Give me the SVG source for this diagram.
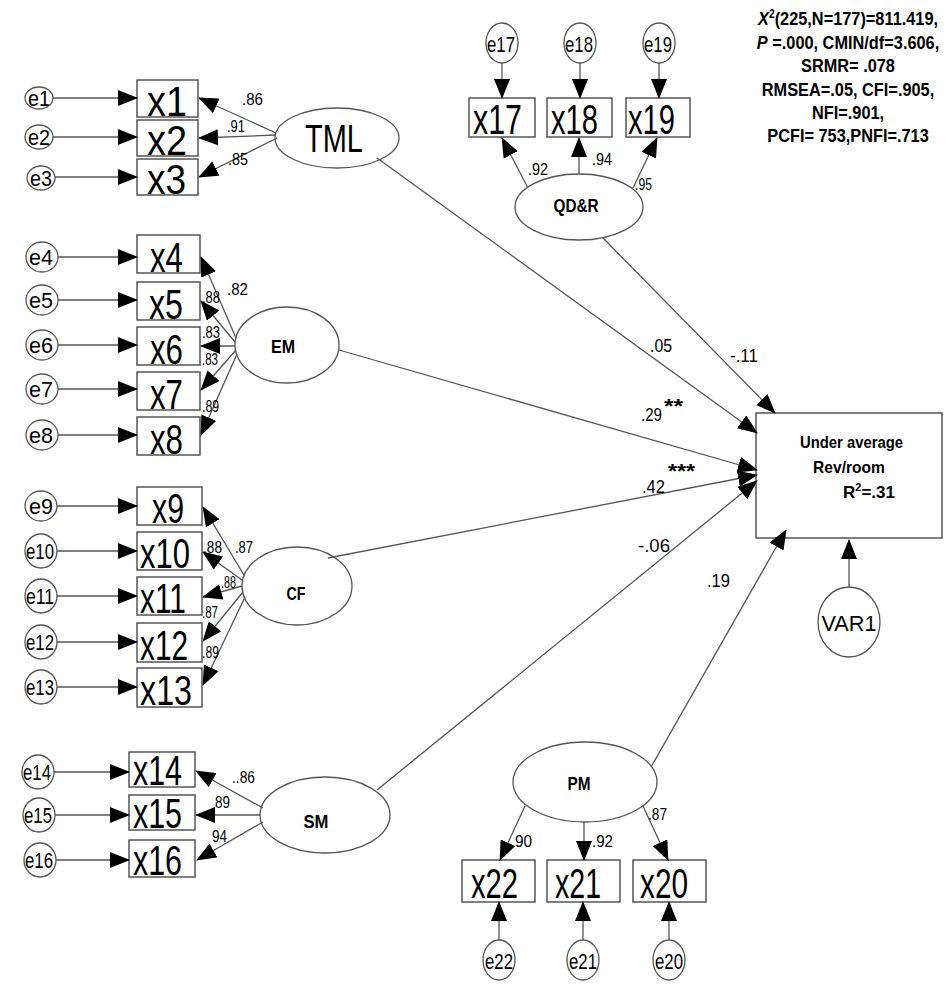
<svg xmlns="http://www.w3.org/2000/svg" width="949" height="984" viewBox="0 0 949 984">
<defs>
<style>
.box{fill:#fff;stroke:#555;stroke-width:1.5}
.el{fill:#fff;stroke:#555;stroke-width:1.3}
.ln{fill:none;stroke:#555;stroke-width:1.3;marker-end:url(#ah)}
text{font-family:"Liberation Sans",Arial,sans-serif;fill:#000}
.xb{font-size:42px;text-anchor:start}
.et{font-size:22px;text-anchor:middle}
.lb{font-size:19px;font-weight:bold;text-anchor:middle}
.ld{font-size:17px}
.pc{font-size:19px}
.st{font-size:19px;font-weight:bold;text-anchor:middle}
.tg{font-size:17px;font-weight:bold}
</style>
<marker id="ah" markerUnits="userSpaceOnUse" markerWidth="20" markerHeight="16" refX="19" refY="8" orient="auto">
<path d="M0,0 L20,8 L0,16 z" fill="#000"/>
</marker>
</defs>
<rect width="949" height="984" fill="#fff"/>

<!-- error terms -->
<g id="e1"><ellipse class="el" cx="39" cy="98" rx="14" ry="11"/><text class="et" x="39" y="106" font-size="20" textLength="22" lengthAdjust="spacingAndGlyphs">e1</text></g>
<g id="e2"><ellipse class="el" cx="39" cy="137" rx="14" ry="12"/><text class="et" x="39" y="145" font-size="20" textLength="22" lengthAdjust="spacingAndGlyphs">e2</text></g>
<g id="e3"><ellipse class="el" cx="41" cy="178" rx="14" ry="12"/><text class="et" x="41" y="186" font-size="20" textLength="22" lengthAdjust="spacingAndGlyphs">e3</text></g>
<g id="e4"><ellipse class="el" cx="42" cy="257" rx="16" ry="15"/><text class="et" x="41" y="265" textLength="24" lengthAdjust="spacingAndGlyphs">e4</text></g>
<g id="e5"><ellipse class="el" cx="42" cy="300" rx="16" ry="15"/><text class="et" x="41" y="308" textLength="24" lengthAdjust="spacingAndGlyphs">e5</text></g>
<g id="e6"><ellipse class="el" cx="42" cy="345" rx="16" ry="15"/><text class="et" x="41" y="353" textLength="24" lengthAdjust="spacingAndGlyphs">e6</text></g>
<g id="e7"><ellipse class="el" cx="42" cy="389" rx="16" ry="15"/><text class="et" x="41" y="397" textLength="24" lengthAdjust="spacingAndGlyphs">e7</text></g>
<g id="e8"><ellipse class="el" cx="42" cy="435" rx="16" ry="15"/><text class="et" x="41" y="443" textLength="24" lengthAdjust="spacingAndGlyphs">e8</text></g>
<g id="e9"><ellipse class="el" cx="41" cy="506" rx="16" ry="15"/><text class="et" x="41" y="514" textLength="24" lengthAdjust="spacingAndGlyphs">e9</text></g>
<g id="e10"><ellipse class="el" cx="41" cy="551" rx="16" ry="17"/><text class="et" x="40" y="559" textLength="28" lengthAdjust="spacingAndGlyphs">e10</text></g>
<g id="e11"><ellipse class="el" cx="41" cy="596" rx="16" ry="17"/><text class="et" x="40" y="604" textLength="28" lengthAdjust="spacingAndGlyphs">e11</text></g>
<g id="e12"><ellipse class="el" cx="41" cy="642" rx="16" ry="17"/><text class="et" x="40" y="650" textLength="28" lengthAdjust="spacingAndGlyphs">e12</text></g>
<g id="e13"><ellipse class="el" cx="41" cy="687" rx="16" ry="17"/><text class="et" x="40" y="695" textLength="28" lengthAdjust="spacingAndGlyphs">e13</text></g>
<g id="e14"><ellipse class="el" cx="38" cy="772" rx="16" ry="17"/><text class="et" x="37" y="780" textLength="28" lengthAdjust="spacingAndGlyphs">e14</text></g>
<g id="e15"><ellipse class="el" cx="39" cy="815" rx="16" ry="17"/><text class="et" x="38" y="823" textLength="28" lengthAdjust="spacingAndGlyphs">e15</text></g>
<g id="e16"><ellipse class="el" cx="40" cy="860" rx="16" ry="17"/><text class="et" x="39" y="868" textLength="28" lengthAdjust="spacingAndGlyphs">e16</text></g>
<g id="e17"><ellipse class="el" cx="502" cy="43" rx="16" ry="20"/><text class="et" x="501" y="52" font-size="24" textLength="28" lengthAdjust="spacingAndGlyphs">e17</text></g>
<g id="e18"><ellipse class="el" cx="580" cy="43" rx="16" ry="20"/><text class="et" x="579" y="52" font-size="24" textLength="28" lengthAdjust="spacingAndGlyphs">e18</text></g>
<g id="e19"><ellipse class="el" cx="659" cy="43" rx="16" ry="20"/><text class="et" x="658" y="52" font-size="24" textLength="28" lengthAdjust="spacingAndGlyphs">e19</text></g>
<g id="e22"><ellipse class="el" cx="499" cy="960" rx="16" ry="20"/><text class="et" x="499" y="969" font-size="24" textLength="28" lengthAdjust="spacingAndGlyphs">e22</text></g>
<g id="e21"><ellipse class="el" cx="583" cy="960" rx="16" ry="20"/><text class="et" x="583" y="969" font-size="24" textLength="28" lengthAdjust="spacingAndGlyphs">e21</text></g>
<g id="e20"><ellipse class="el" cx="669" cy="960" rx="16" ry="20"/><text class="et" x="669" y="969" font-size="24" textLength="28" lengthAdjust="spacingAndGlyphs">e20</text></g>
<g id="VAR1"><ellipse class="el" cx="849" cy="622" rx="31" ry="35"/><text class="et" x="849" y="631" font-size="25" textLength="55" lengthAdjust="spacingAndGlyphs">VAR1</text></g>

<!-- observed indicators -->
<g id="x1"><rect class="box" x="137" y="80" width="61" height="37"/><text class="xb" x="147" y="116" font-size="34" textLength="40" lengthAdjust="spacingAndGlyphs">x1</text></g>
<g id="x2"><rect class="box" x="137" y="120" width="61" height="36"/><text class="xb" x="147" y="155" font-size="34" textLength="40" lengthAdjust="spacingAndGlyphs">x2</text></g>
<g id="x3"><rect class="box" x="137" y="159" width="61" height="36"/><text class="xb" x="147" y="194" font-size="34" textLength="39" lengthAdjust="spacingAndGlyphs">x3</text></g>
<g id="x4"><rect class="box" x="137" y="235" width="63" height="38"/><text class="xb" x="150" y="272" font-size="37" textLength="33" lengthAdjust="spacingAndGlyphs">x4</text></g>
<g id="x5"><rect class="box" x="137" y="282" width="63" height="38"/><text class="xb" x="149" y="319" font-size="37" textLength="34" lengthAdjust="spacingAndGlyphs">x5</text></g>
<g id="x6"><rect class="box" x="137" y="327" width="63" height="38"/><text class="xb" x="150" y="364" font-size="37" textLength="33" lengthAdjust="spacingAndGlyphs">x6</text></g>
<g id="x7"><rect class="box" x="137" y="372" width="63" height="38"/><text class="xb" x="150" y="409" font-size="37" textLength="33" lengthAdjust="spacingAndGlyphs">x7</text></g>
<g id="x8"><rect class="box" x="137" y="417" width="63" height="38"/><text class="xb" x="150" y="454" font-size="37" textLength="33" lengthAdjust="spacingAndGlyphs">x8</text></g>
<g id="x9"><rect class="box" x="137" y="487" width="65" height="38"/><text class="xb" x="152" y="523" font-size="40" textLength="32" lengthAdjust="spacingAndGlyphs">x9</text></g>
<g id="x10"><rect class="box" x="137" y="532" width="65" height="38"/><text class="xb" x="140" y="568" font-size="40" textLength="50" lengthAdjust="spacingAndGlyphs">x10</text></g>
<g id="x11"><rect class="box" x="137" y="577" width="65" height="38"/><text class="xb" x="140" y="613" font-size="40" textLength="46" lengthAdjust="spacingAndGlyphs">x11</text></g>
<g id="x12"><rect class="box" x="137" y="623" width="65" height="39"/><text class="xb" x="140" y="660" font-size="40" textLength="48" lengthAdjust="spacingAndGlyphs">x12</text></g>
<g id="x13"><rect class="box" x="137" y="668" width="65" height="39"/><text class="xb" x="140" y="705" font-size="40" textLength="52" lengthAdjust="spacingAndGlyphs">x13</text></g>
<g id="x14"><rect class="box" x="129" y="752" width="66" height="35"/><text class="xb" x="133" y="785" font-size="40" textLength="49" lengthAdjust="spacingAndGlyphs">x14</text></g>
<g id="x15"><rect class="box" x="129" y="795" width="66" height="35"/><text class="xb" x="133" y="828" font-size="40" textLength="49" lengthAdjust="spacingAndGlyphs">x15</text></g>
<g id="x16"><rect class="box" x="129" y="840" width="66" height="37"/><text class="xb" x="133" y="875" font-size="40" textLength="49" lengthAdjust="spacingAndGlyphs">x16</text></g>
<g id="x17"><rect class="box" x="469" y="98" width="66" height="39"/><text class="xb" x="473" y="134" textLength="49" lengthAdjust="spacingAndGlyphs">x17</text></g>
<g id="x18"><rect class="box" x="547" y="98" width="65" height="39"/><text class="xb" x="551" y="134" textLength="47" lengthAdjust="spacingAndGlyphs">x18</text></g>
<g id="x19"><rect class="box" x="626" y="98" width="64" height="39"/><text class="xb" x="628" y="134" textLength="47" lengthAdjust="spacingAndGlyphs">x19</text></g>
<g id="x22"><rect class="box" x="462" y="860" width="73" height="42"/><text class="xb" x="471" y="898" textLength="47" lengthAdjust="spacingAndGlyphs">x22</text></g>
<g id="x21"><rect class="box" x="547" y="860" width="73" height="42"/><text class="xb" x="555" y="898" textLength="46" lengthAdjust="spacingAndGlyphs">x21</text></g>
<g id="x20"><rect class="box" x="633" y="860" width="73" height="42"/><text class="xb" x="640" y="898" textLength="48" lengthAdjust="spacingAndGlyphs">x20</text></g>

<!-- latent variables -->
<g id="TML"><ellipse class="el" cx="337" cy="138" rx="62" ry="30"/><text x="334" y="152" font-size="38" text-anchor="middle" textLength="58" lengthAdjust="spacingAndGlyphs">TML</text></g>
<g id="EM"><ellipse class="el" cx="287" cy="345" rx="52" ry="38"/><text class="lb" x="283" y="353" textLength="24" lengthAdjust="spacingAndGlyphs">EM</text></g>
<g id="CF"><ellipse class="el" cx="297" cy="586" rx="55" ry="39"/><text class="lb" x="296" y="600" textLength="19" lengthAdjust="spacingAndGlyphs">CF</text></g>
<g id="SM"><ellipse class="el" cx="325" cy="815" rx="65" ry="38"/><text class="lb" x="316" y="828" textLength="25" lengthAdjust="spacingAndGlyphs">SM</text></g>
<g id="QDR"><ellipse class="el" cx="579" cy="207" rx="64" ry="33"/><text class="lb" x="576" y="212" font-size="20" textLength="45" lengthAdjust="spacingAndGlyphs">QD&amp;R</text></g>
<g id="PM"><ellipse class="el" cx="585" cy="782" rx="72" ry="40"/><text class="lb" x="579" y="790" textLength="23" lengthAdjust="spacingAndGlyphs">PM</text></g>
<g id="target"><rect class="box" x="756" y="413" width="186" height="125"/>
<text class="tg" x="800" y="448" textLength="103" lengthAdjust="spacingAndGlyphs">Under average</text>
<text class="tg" x="813" y="473" textLength="72" lengthAdjust="spacingAndGlyphs">Rev/room</text>
<text class="tg" x="843" y="498">R<tspan font-size="11" dy="-7">2</tspan><tspan dy="7">=.31</tspan></text>
</g>

<!-- connectors -->
<g id="connectors">
<path class="ln" d="M53,98 H137"/>
<path class="ln" d="M53,137 H137"/>
<path class="ln" d="M55,177 H137"/>
<path class="ln" d="M276,133 L199,98"/>
<path class="ln" d="M276,135 L199,138"/>
<path class="ln" d="M277,138 L199,177"/>

<path class="ln" d="M58,257 H137"/>
<path class="ln" d="M58,300 H137"/>
<path class="ln" d="M58,345 H137"/>
<path class="ln" d="M58,389 H137"/>
<path class="ln" d="M58,435 H137"/>
<path class="ln" d="M236,338 L201,257"/>
<path class="ln" d="M235,342 L201,301"/>
<path class="ln" d="M235,346 L201,346"/>
<path class="ln" d="M236,350 L201,390"/>
<path class="ln" d="M237,354 L201,435"/>

<path class="ln" d="M57,506 H137"/>
<path class="ln" d="M57,551 H137"/>
<path class="ln" d="M57,596 H137"/>
<path class="ln" d="M57,642 H137"/>
<path class="ln" d="M57,687 H137"/>
<path class="ln" d="M244,575 L203,507"/>
<path class="ln" d="M242,580 L203,552"/>
<path class="ln" d="M242,586 L203,597"/>
<path class="ln" d="M243,592 L203,641"/>
<path class="ln" d="M245,597 L203,685"/>

<path class="ln" d="M54,772 H129"/>
<path class="ln" d="M55,815 H129"/>
<path class="ln" d="M56,860 H129"/>
<path class="ln" d="M263,808 L196,771"/>
<path class="ln" d="M260,815 L196,815"/>
<path class="ln" d="M263,822 L197,860"/>

<path class="ln" d="M502,63 V98"/>
<path class="ln" d="M580,63 V98"/>
<path class="ln" d="M659,63 V98"/>
<path class="ln" d="M528,188 L502,138"/>
<path class="ln" d="M579,174 V138"/>
<path class="ln" d="M633,188 L657,138"/>

<path class="ln" d="M525,806 L500,860"/>
<path class="ln" d="M584,822 V860"/>
<path class="ln" d="M643,806 L668,860"/>
<path class="ln" d="M499,940 V902"/>
<path class="ln" d="M583,940 V902"/>
<path class="ln" d="M669,940 V902"/>

<path class="ln" d="M377,158 L757,433"/>
<path class="ln" d="M603,238 L775,413"/>
<path class="ln" d="M339,350 L757,470"/>
<path class="ln" d="M328,558 L757,475"/>
<path class="ln" d="M377,790 L757,481"/>
<path class="ln" d="M651,767 L786,530"/>
<path class="ln" d="M849,587 V540"/>
</g>

<!-- loading labels -->
<g id="labels">
<text class="ld" x="242" y="105" font-size="19" textLength="21" lengthAdjust="spacingAndGlyphs">.86</text>
<text class="ld" x="227" y="132" font-size="19" textLength="18" lengthAdjust="spacingAndGlyphs">.91</text>
<text class="ld" x="228" y="165" font-size="19" textLength="20" lengthAdjust="spacingAndGlyphs">.85</text>

<text class="ld" x="227" y="295" font-size="19" textLength="21" lengthAdjust="spacingAndGlyphs">.82</text>
<text class="ld" x="202" y="303" textLength="18" lengthAdjust="spacingAndGlyphs">.88</text>
<text class="ld" x="202" y="338" textLength="18" lengthAdjust="spacingAndGlyphs">.83</text>
<text class="ld" x="202" y="365" textLength="16" lengthAdjust="spacingAndGlyphs">.83</text>
<text class="ld" x="202" y="412" textLength="17" lengthAdjust="spacingAndGlyphs">.89</text>

<text class="ld" x="235" y="553" textLength="18" lengthAdjust="spacingAndGlyphs">.87</text>
<text class="ld" x="203" y="553" textLength="19" lengthAdjust="spacingAndGlyphs">.88</text>
<text class="ld" x="221" y="588" textLength="15" lengthAdjust="spacingAndGlyphs">.88</text>
<text class="ld" x="202" y="618" textLength="16" lengthAdjust="spacingAndGlyphs">.87</text>
<text class="ld" x="202" y="658" textLength="17" lengthAdjust="spacingAndGlyphs">.89</text>

<text class="ld" x="232" y="783" textLength="23" lengthAdjust="spacingAndGlyphs">..86</text>
<text class="ld" x="215" y="808" textLength="15" lengthAdjust="spacingAndGlyphs">89</text>
<text class="ld" x="212" y="842" textLength="15" lengthAdjust="spacingAndGlyphs">94</text>

<text class="ld" x="528" y="175" textLength="20" lengthAdjust="spacingAndGlyphs">.92</text>
<text class="ld" x="592" y="165" textLength="20" lengthAdjust="spacingAndGlyphs">.94</text>
<text class="ld" x="635" y="190" textLength="17" lengthAdjust="spacingAndGlyphs">.95</text>

<text class="ld" x="515" y="847" textLength="17" lengthAdjust="spacingAndGlyphs">90</text>
<text class="ld" x="592" y="847" textLength="21" lengthAdjust="spacingAndGlyphs">.92</text>
<text class="ld" x="648" y="820" textLength="19" lengthAdjust="spacingAndGlyphs">.87</text>

<text class="pc" x="650" y="352" textLength="22" lengthAdjust="spacingAndGlyphs">.05</text>
<text class="pc" x="730" y="362" textLength="28" lengthAdjust="spacingAndGlyphs">-.11</text>
<text class="pc" x="641" y="421" textLength="21" lengthAdjust="spacingAndGlyphs">.29</text>
<text x="664" y="413" font-size="20" font-weight="bold" textLength="19" lengthAdjust="spacingAndGlyphs">**</text>
<text class="pc" x="642" y="493" textLength="23" lengthAdjust="spacingAndGlyphs">.42</text>
<text x="668" y="478" font-size="20" font-weight="bold" textLength="27" lengthAdjust="spacingAndGlyphs">***</text>
<text class="pc" x="638" y="552" textLength="32" lengthAdjust="spacingAndGlyphs">-.06</text>
<text class="pc" x="707" y="587" textLength="23" lengthAdjust="spacingAndGlyphs">.19</text>
</g>

<!-- fit statistics -->
<g id="fit" transform="translate(848,0) scale(0.86,1)">
<text class="st" x="0" y="25"><tspan font-style="italic">X</tspan><tspan font-size="12" dy="-7">2</tspan><tspan dy="7">(225,N=177)=811.419,</tspan></text>
<text class="st" x="0" y="49"><tspan font-style="italic">P</tspan> =.000, CMIN/df=3.606,</text>
<text class="st" x="0" y="72">SRMR= .078</text>
<text class="st" x="0" y="96">RMSEA=.05, CFI=.905,</text>
<text class="st" x="0" y="119">NFI=.901,</text>
<text class="st" x="0" y="142">PCFI= 753,PNFI=.713</text>
</g>
</svg>
